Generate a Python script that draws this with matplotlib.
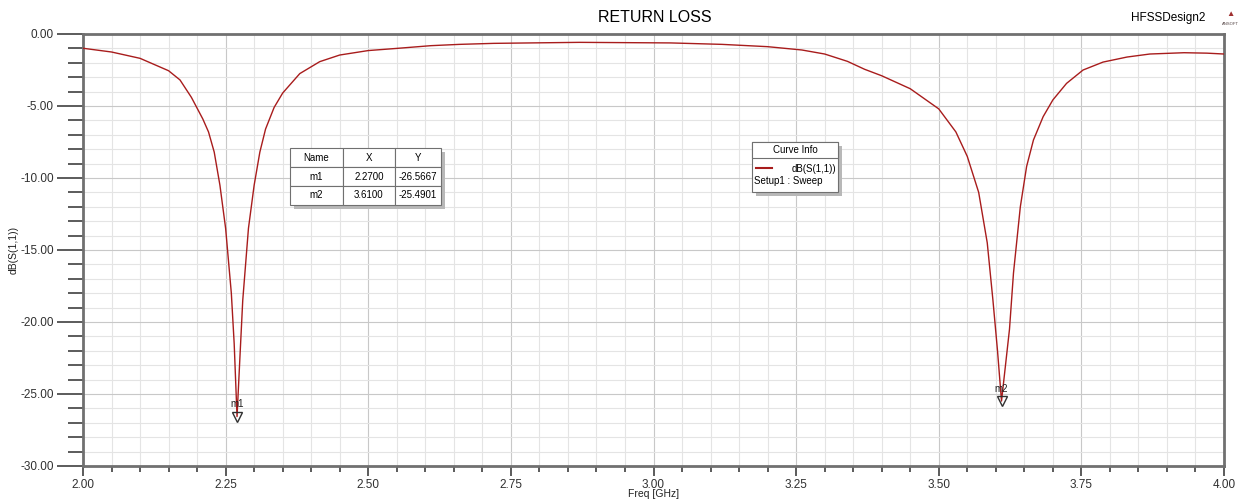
import numpy as np
import matplotlib.pyplot as plt
from matplotlib.patches import Rectangle
from matplotlib.ticker import MultipleLocator

plt.rcParams['font.family'] = ['Liberation Sans', 'DejaVu Sans']

# S11 curve
freq = [2.00, 2.05, 2.10, 2.15, 2.17, 2.19, 2.21, 2.22, 2.23, 2.24, 2.25, 2.26, 2.265, 2.27,
        2.275, 2.28, 2.29, 2.30, 2.31, 2.32, 2.335, 2.35, 2.38, 2.415, 2.45, 2.50, 2.55,
        2.61, 2.66, 2.72, 2.87, 3.03, 3.12, 3.20, 3.26, 3.30, 3.34, 3.37, 3.40, 3.45, 3.50,
        3.53, 3.55, 3.57, 3.585, 3.595, 3.603, 3.61, 3.617, 3.624, 3.631, 3.643, 3.654, 3.666,
        3.683, 3.70, 3.724, 3.753, 3.788, 3.83, 3.87, 3.93, 3.97, 4.00]
s11 = [-0.99, -1.25, -1.69, -2.55, -3.19, -4.4, -5.9, -6.8, -8.2, -10.5, -13.5, -18.0, -21.5, -26.57,
       -22.5, -18.5, -13.5, -10.5, -8.2, -6.6, -5.1, -4.1, -2.75, -1.92, -1.46, -1.15, -1.0,
       -0.81, -0.72, -0.65, -0.58, -0.62, -0.72, -0.88, -1.11, -1.39, -1.9, -2.45, -2.9, -3.8, -5.2,
       -6.8, -8.5, -11.0, -14.5, -18.5, -22.0, -25.49, -23.0, -20.5, -16.6, -12.0, -9.2, -7.36,
       -5.74, -4.58, -3.43, -2.5, -1.95, -1.6, -1.39, -1.30, -1.33, -1.39]

markers = ['m1', 'm2']
marker_x = [2.27, 3.61]
marker_y = [-26.5667, -25.4901]

fig = plt.figure(figsize=(12.51, 5.01), dpi=100)
ax = fig.add_axes([83/1251, 1-466/501, (1224-83)/1251, (466-34)/501])

ax.plot(freq, s11, color='#a81c1c', lw=1.0, zorder=3)
ax.plot(marker_x, marker_y, linestyle='none', marker='v', markersize=7,
        markerfacecolor='none', markeredgecolor='#303030', markeredgewidth=1, zorder=4)
for name, mx, my in zip(markers, marker_x, marker_y):
    ax.text(mx, my + 0.5, name, fontsize=7, ha='center', va='bottom', color='#202020', zorder=5)

ax.set_xlim(2.0, 4.0)
ax.set_ylim(-30, 0)
ax.xaxis.set_major_locator(MultipleLocator(0.25))
ax.xaxis.set_minor_locator(MultipleLocator(0.05))
ax.yaxis.set_major_locator(MultipleLocator(5))
ax.yaxis.set_minor_locator(MultipleLocator(1))
ax.xaxis.set_major_formatter(plt.FormatStrFormatter('%.2f'))
ax.yaxis.set_major_formatter(plt.FormatStrFormatter('%.2f'))
ax.grid(which='major', color='#c8c8c8', lw=0.8)
ax.grid(which='minor', color='#e4e4e4', lw=0.8)
ax.tick_params(which='major', length=7, width=1.2, color='#404040', labelsize=8.5, labelcolor='#303030', pad=2)
ax.tick_params(which='minor', length=4, width=1.2, color='#404040')
ax.tick_params(axis='y', which='major', length=19)
ax.tick_params(axis='y', which='minor', length=11)
for s in ax.spines.values():
    s.set_color('#707070')
    s.set_linewidth(2)

ax.set_xlabel('Freq [GHz]', fontsize=7.5, labelpad=-1, color='#202020')
ax.set_ylabel('dB(S(1,1))', fontsize=7.5, labelpad=1, color='#202020')

fig.text(655/1251, 1-18/501, 'RETURN LOSS', fontsize=11.5, ha='center', va='center')
fig.text(1205/1251, 1-18/501, 'HFSSDesign2', fontsize=8.5, ha='right', va='center')
fig.text(1230/1251, 1-24/501, 'ANSOFT', fontsize=3, ha='center', va='center', color='#504040')
fig.text(1230/1251, 1-15/501, '\u25b2', fontsize=6, ha='center', va='center', color='#a03030')

# marker table with drop shadow
cols = ['Name', 'X', 'Y']
rows = [[n, '%.4f' % x, '%.4f' % y] for n, x, y in zip(markers, marker_x, marker_y)]
ax.add_patch(Rectangle((294/1251, 1-209/501), 151/1251, 57/501, transform=fig.transFigure,
                       facecolor='#b8b8b8', edgecolor='none', zorder=5, clip_on=False))
tb = ax.table(cellText=rows, colLabels=cols, cellLoc='center',
              bbox=[(290-83)/1141, (466-205)/432, 151/1141, 57/432],
              colWidths=[53, 52, 46])
tb.auto_set_font_size(False)
tb.set_fontsize(7)
tb.set_zorder(6)
for c in tb.get_celld().values():
    c.set_edgecolor('#707070')
    c.set_linewidth(0.8)
    c.set_facecolor('white')

# curve info box
ax.add_patch(Rectangle((756/1251, 1-196/501), 86/1251, 50/501, transform=fig.transFigure,
                       facecolor='#b8b8b8', edgecolor='none', zorder=5, clip_on=False))
ax.add_patch(Rectangle((752/1251, 1-192/501), 86/1251, 50/501, transform=fig.transFigure,
                       facecolor='white', edgecolor='#707070', lw=0.8, zorder=6, clip_on=False))
ax.add_patch(Rectangle((752/1251, 1-158/501), 86/1251, 16/501, transform=fig.transFigure,
                       facecolor='white', edgecolor='#707070', lw=0.8, zorder=6, clip_on=False))
fig.text(795/1251, 1-150/501, 'Curve Info', fontsize=7, ha='center', va='center', zorder=7)
fig.lines.append(plt.Line2D([756/1251, 772/1251], [1-168/501, 1-168/501], transform=fig.transFigure,
                            color='#a81c1c', lw=1.5, zorder=7))
fig.text(836/1251, 1-169/501, 'dB(S(1,1))', fontsize=7, ha='right', va='center', zorder=7)
fig.text(754/1251, 1-181/501, 'Setup1 : Sweep', fontsize=7, ha='left', va='center', zorder=7)

fig.savefig('out.png', dpi=100)
